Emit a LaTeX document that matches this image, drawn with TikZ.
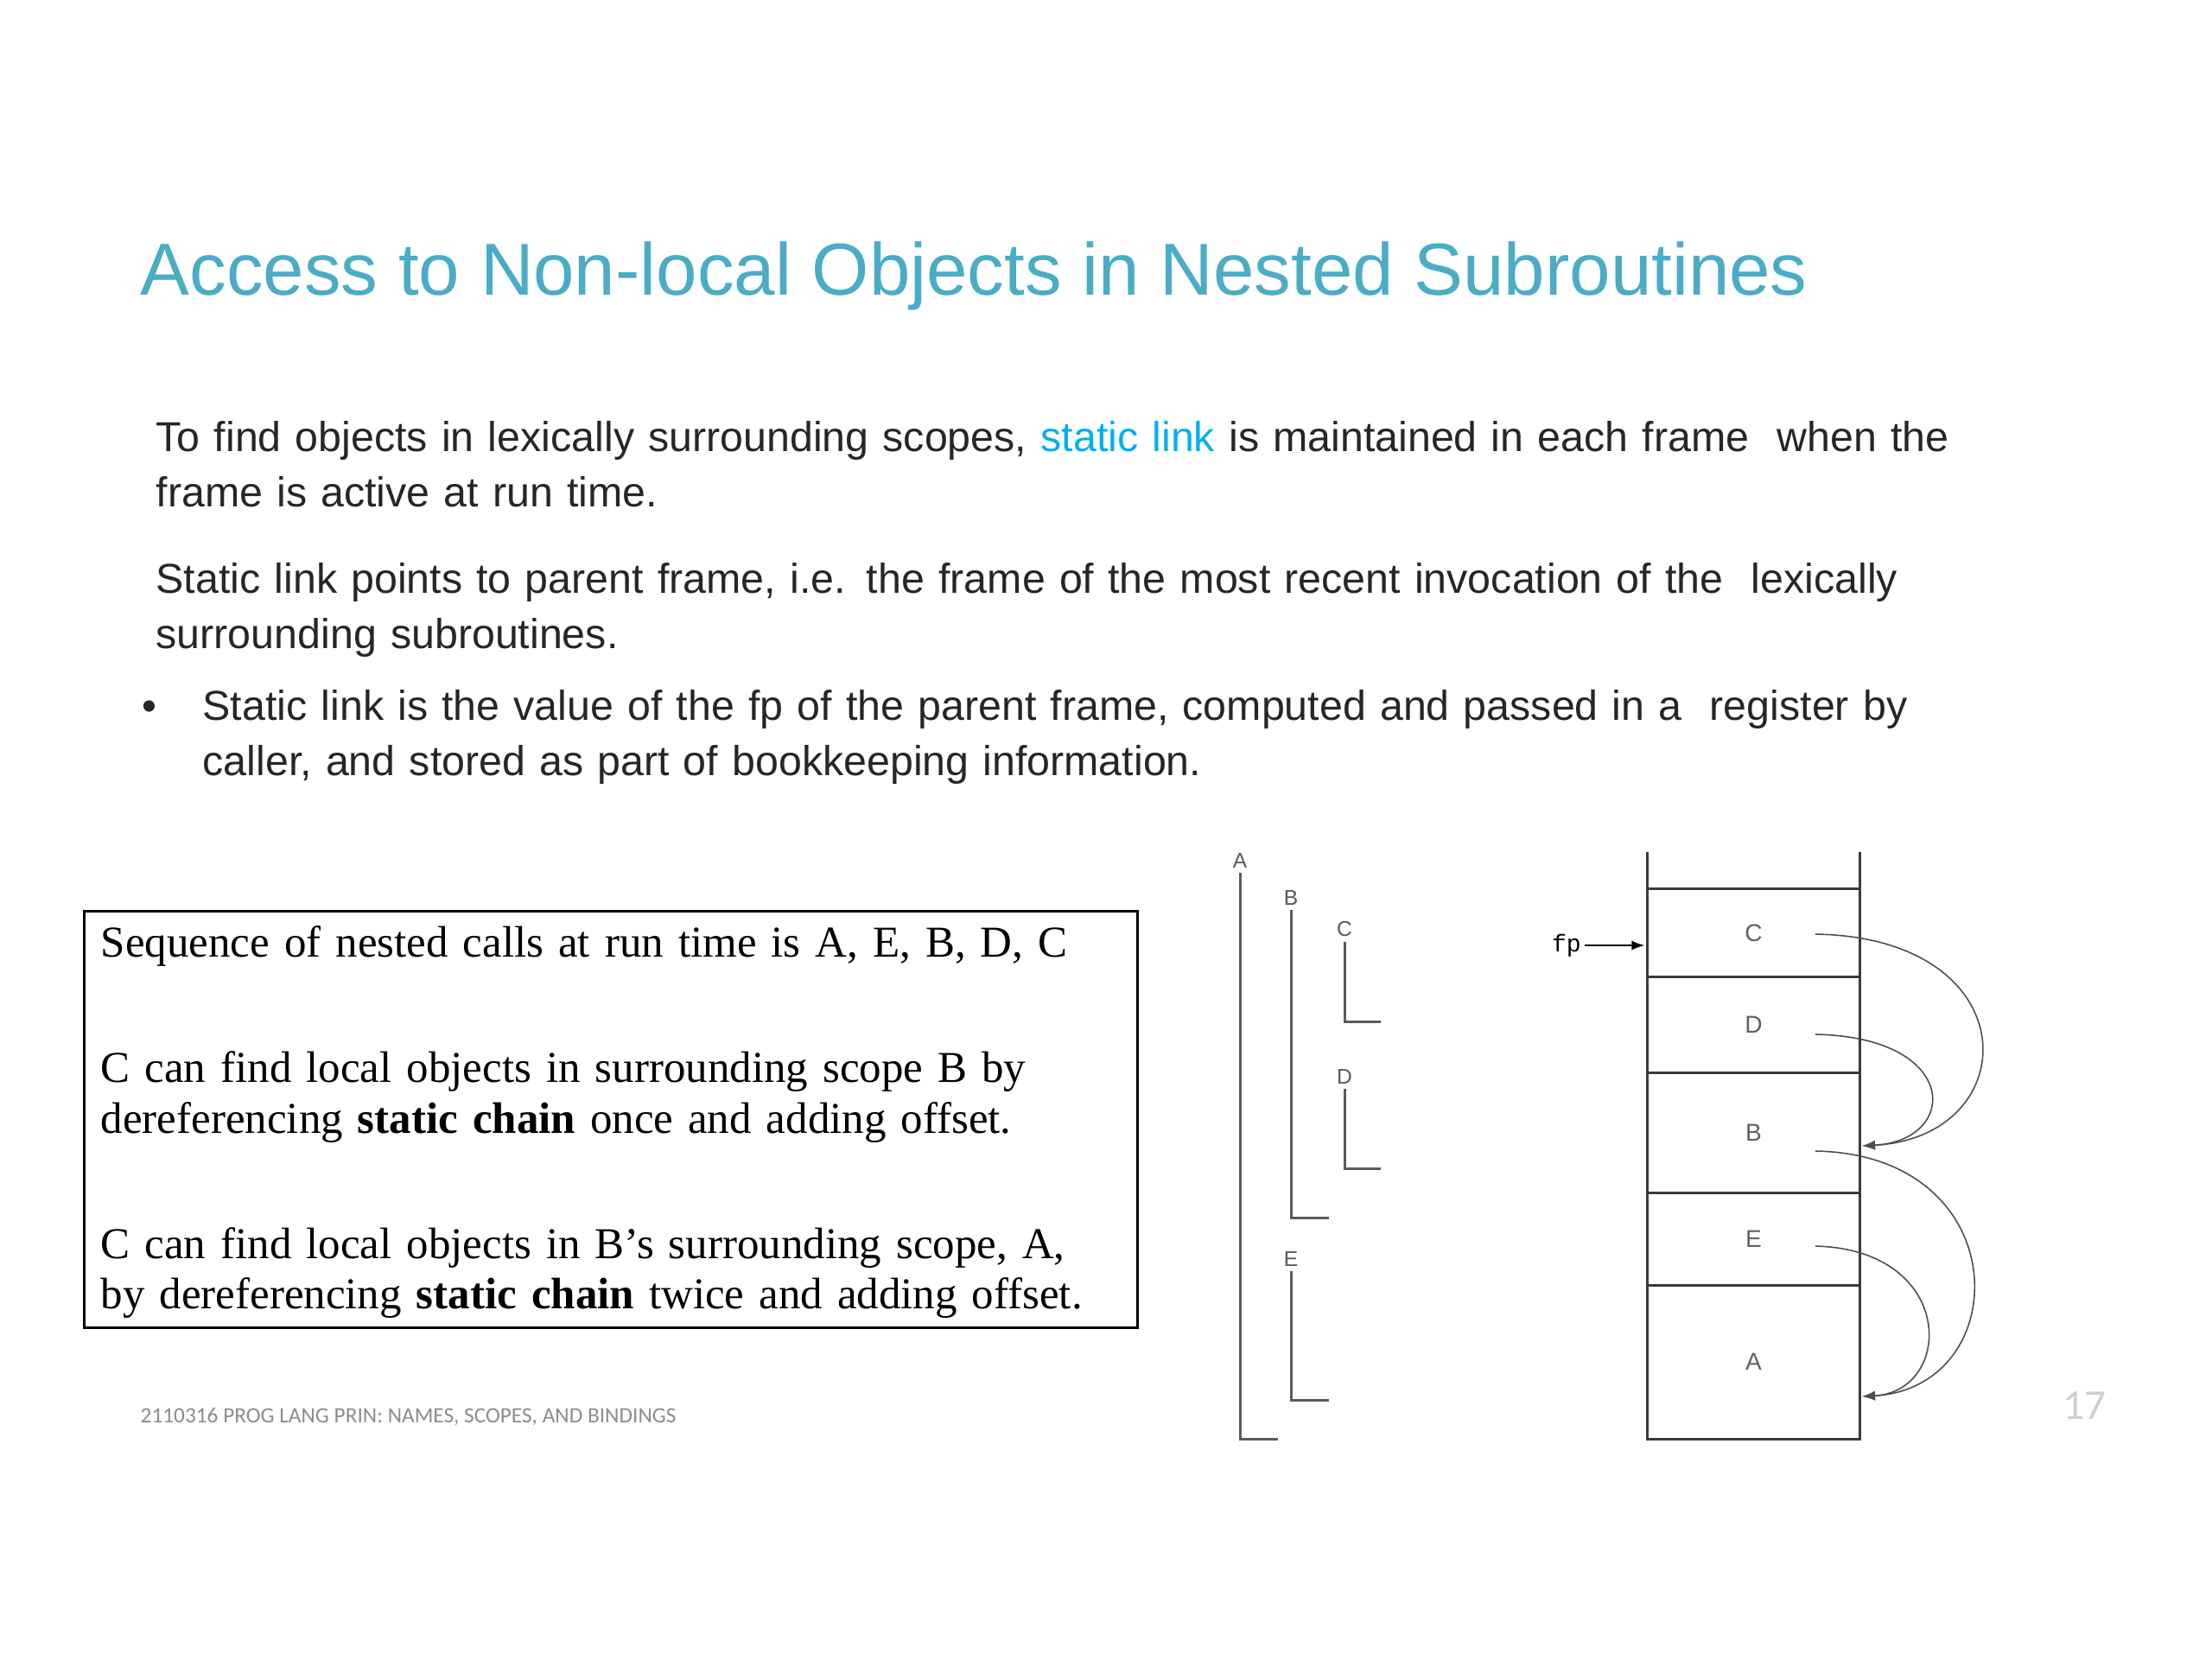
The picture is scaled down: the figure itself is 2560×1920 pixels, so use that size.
\documentclass[tikz,border=0pt]{standalone}
\usepackage{fontspec}
\setmainfont{Liberation Sans}
\setmonofont{Liberation Mono}
\newfontfamily\timesfont{Liberation Serif}
\newfontfamily\calibrifont{Carlito}
\usetikzlibrary{arrows.meta,positioning}

\definecolor{titlecol}{HTML}{4BACC6}
\definecolor{linkcol}{HTML}{00B0F0}
\definecolor{bodycol}{HTML}{262626}
\definecolor{footcol}{HTML}{8C8C8C}
\definecolor{pagecol}{HTML}{CFCFCF}
\definecolor{stackcol}{HTML}{3A3A3A}
\definecolor{nestcol}{HTML}{5A5A5A}

\begin{document}
\begin{tikzpicture}[
    x=0.01cm, y=-0.01cm,
    >={Latex[length=1.5mm,width=1.1mm]},
    slidetitle/.style={
        anchor=base west,
        inner sep=0pt,
        text=titlecol,
        font=\fontsize{24.25}{29}\selectfont
    },
    body/.style={
        anchor=base west,
        inner sep=0pt,
        align=left,
        text width=24cm,
        text=bodycol,
        font=\fontsize{13.75}{18.2}\selectfont
    },
    seqbox/.style={
        rectangle,
        draw=black,
        line width=0.9pt,
        minimum width=12.18cm,
        minimum height=4.82cm,
        inner sep=0pt
    },
    seqtext/.style={
        anchor=base west,
        inner sep=0pt,
        align=left,
        text width=11.9cm,
        font=\timesfont\fontsize{14.5}{16.5}\selectfont
    },
    foot/.style={
        anchor=base west,
        inner sep=0pt,
        text=footcol,
        font=\calibrifont\fontsize{7.2}{8}\selectfont
    },
    nestlbl/.style={
        anchor=south,
        inner sep=1.5pt,
        text=nestcol,
        font=\fontsize{7}{8}\selectfont
    },
    nest/.style={draw=nestcol, line width=0.85pt},
    frame/.style={
        rectangle,
        draw=stackcol,
        line width=0.85pt,
        minimum width=2.45cm,
        inner sep=0pt,
        outer sep=0pt,
        text=stackcol!80,
        font=\fontsize{8}{9}\selectfont
    },
    stack/.style={draw=stackcol, line width=0.85pt},
    link/.style={->, draw=stackcol!90, line width=0.45pt}
]
\useasboundingbox (0,0) rectangle (2560,1920);

% ==================== Title and bullet text ====================
\node[slidetitle] (title) at (162,341) {Access to Non-local Objects in Nested Subroutines};

\node[body] (para1) at (180,522) {%
  To find objects in lexically surrounding scopes, \textcolor{linkcol}{static link} is maintained in each frame\ \ when the\\
  frame is active at run time.};

\node[body] (para2) at (180,686) {%
  Static link points to parent frame, i.e. the frame of the most recent invocation of the\ \ lexically\\
  surrounding subroutines.};

\node[body, text width=1cm] (dot) at (164,833) {\textbullet};
\node[body] (para3) at (234,833) {%
  Static link is the value of the fp of the parent frame, computed and passed in a\ \ register by\\
  caller, and stored as part of bookkeeping information.};

% ==================== Boxed explanation ====================
\node[seqbox, anchor=north west] (box) at (96,1053) {};
\node[seqtext] (seq) at ([shift={(0.2cm,-0.54cm)}]box.north west) {%
  Sequence of nested calls at run time is A, E, B, D, C\\[25pt]
  C can find local objects in surrounding scope B by\\
  dereferencing \textbf{static chain} once and adding offset.\\[25pt]
  C can find local objects in B’s surrounding scope, A,\\
  by dereferencing \textbf{static chain} twice and adding offset.};

% ==================== Lexical nesting ====================
\node[nestlbl] (nA) at (1435,1010) {A};
\node[nestlbl] (nB) at (1494,1053) {B};
\node[nestlbl] (nC) at (1556,1090) {C};
\node[nestlbl] (nD) at (1556,1260) {D};
\node[nestlbl] (nE) at (1494,1471) {E};

\draw[nest] (nA.south) |- (1479,1665);
\draw[nest] (nB.south) |- (1538,1409);
\draw[nest] (nC.south) |- (1598,1182);
\draw[nest] (nD.south) |- (1598,1352);
\draw[nest] (nE.south) |- (1538,1620);

% ==================== Run-time stack ====================
\node[frame, minimum height=1.01cm] (fC) at (2029.5,1079.5) {C};
\node[frame, minimum height=1.11cm, below=0pt of fC] (fD) {D};
\node[frame, minimum height=1.39cm, below=0pt of fD] (fB) {B};
\node[frame, minimum height=1.07cm, below=0pt of fB] (fE) {E};
\node[frame, minimum height=1.78cm, below=0pt of fE] (fA) {A};

\draw[stack] (fC.north west) -- ++(0,-43);
\draw[stack] (fC.north east) -- ++(0,-43);

\node[anchor=east, inner sep=1pt, font=\ttfamily\fontsize{8}{9}\selectfont] (fp) at (1834,1094) {fp};
\draw[->, draw=black, line width=0.5pt, shorten >=1pt] (fp.east) -- (fp.east -| fC.west);

% static links
\coordinate (sC) at (2101,1081);
\coordinate (sD) at (2101,1197);
\coordinate (sB) at (2101,1332);
\coordinate (sE) at (2101,1442);
\coordinate (tB) at (2155,1326);
\coordinate (tA) at (2155,1616);

\draw[link] (sC) .. controls (2349,1085) and (2345,1316) .. (tB);
\draw[link] (sD) .. controls (2269,1200) and (2268,1320) .. (tB);
\draw[link] (sB) .. controls (2335,1336) and (2333,1606) .. (tA);
\draw[link] (sE) .. controls (2264,1446) and (2262,1610) .. (tA);

% ==================== Footer ====================
\node[foot] (footer) at (162,1646) {2110316 PROG LANG PRIN: NAMES, SCOPES, AND BINDINGS};
\node[foot, text=pagecol, font=\calibrifont\fontsize{14}{16}\selectfont] (pnum) at (2387,1642) {17};

\end{tikzpicture}
\end{document}
